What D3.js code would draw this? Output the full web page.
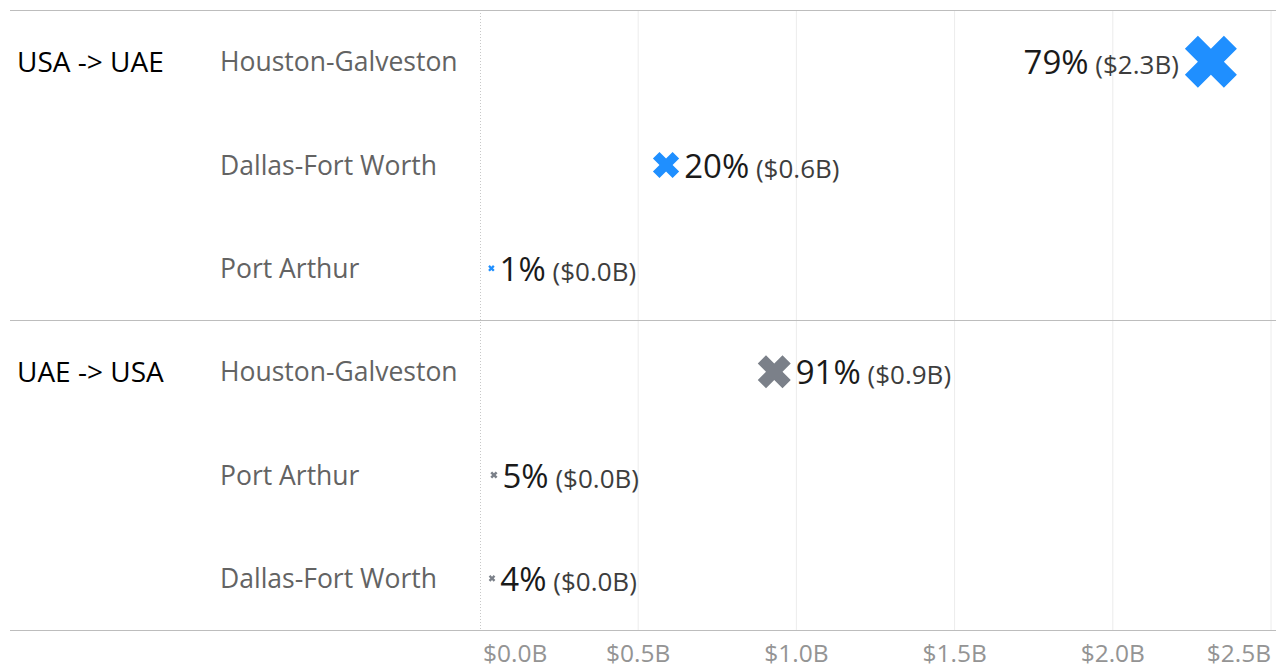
<!DOCTYPE html>
<html>
<head>
<meta charset="utf-8">
<script src="https://cdn.jsdelivr.net/npm/d3@7"></script>
<style>
  html,body{margin:0;padding:0;background:#fff;}
  svg{display:block;font-family:"Open Sans",sans-serif;}
</style>
</head>
<body>
<svg id="svg" width="1286" height="668"></svg>
<script>
// data
const flows = ["USA -> UAE", "UAE -> USA"];
const ports = [
  ["Houston-Galveston", "Dallas-Fort Worth", "Port Arthur"],
  ["Houston-Galveston", "Port Arthur", "Dallas-Fort Worth"]
];
const values = [[2.31, 0.588, 0.036], [0.93, 0.044, 0.038]];   // $B
const shares = [[79, 20, 1], [91, 5, 4]];                      // % of flow
const flowColors = ["#1f8fff", "#7b8089"];
const xTicks = [0, 0.5, 1, 1.5, 2, 2.5];

const plotLeft = 10, plotRight = 1276, plotTop = 10, paneH = 310;
const rowsPer = 3, rowH = paneH/rowsPer;

const svg = d3.select("#svg");

const x = d3.scaleLinear().domain([0, 2.5]).range([480, 1271]);
const size = d3.scaleSqrt().domain([0, 2.31]).range([0, 52]);

// flatten rows
const rows = [];
flows.forEach((f,fi)=>{
  ports[fi].forEach((p,pi)=>{
    rows.push({flow:f, fi, port:p, pi, value:values[fi][pi], share:shares[fi][pi],
      y: plotTop + fi*paneH + rowH*(pi+0.5)});
  });
});

const plotBottom = plotTop + paneH*flows.length;

// gridlines
svg.append("g").selectAll("line")
  .data(xTicks.filter(d=>d>0))
  .enter().append("line")
  .attr("x1", d=>x(d)).attr("x2", d=>x(d))
  .attr("y1", plotTop).attr("y2", plotBottom)
  .attr("stroke", "#ececec").attr("stroke-width", 1);

// zero line (dotted)
svg.append("line")
  .attr("x1", x(0)+0.5).attr("x2", x(0)+0.5)
  .attr("y1", plotTop).attr("y2", plotBottom)
  .attr("stroke", "#c8c8c8").attr("stroke-dasharray", "1,2");

// pane separators
svg.append("g").selectAll("line")
  .data(d3.range(flows.length+1))
  .enter().append("line")
  .attr("x1", plotLeft).attr("x2", plotRight)
  .attr("y1", d=>plotTop + d*paneH + 0.5).attr("y2", d=>plotTop + d*paneH + 0.5)
  .attr("stroke", "#bdbdbd").attr("stroke-width", 1);

// flow labels
svg.append("g").selectAll("text")
  .data(flows)
  .enter().append("text")
  .attr("x", 17)
  .attr("y", (d,i)=>plotTop + i*paneH + rowH*0.5)
  .attr("dy", "0.36em")
  .attr("font-size", 28)
  .attr("fill", "#000")
  .text(d=>d);

// port labels
svg.append("g").selectAll("text")
  .data(rows)
  .enter().append("text")
  .attr("x", 220)
  .attr("y", d=>d.y)
  .attr("dy", "0.36em")
  .attr("font-size", 26.5)
  .attr("fill", "#636363")
  .text(d=>d.port);

// X marker path, s = bounding box width
function xPath(s){
  const h = s/Math.SQRT2;            // L + t
  const t = h*0.25, L = h - t;
  const pts = [[t,L],[t,t],[L,t],[L,-t],[t,-t],[t,-L],[-t,-L],[-t,-t],[-L,-t],[-L,t],[-t,t],[-t,L]];
  const c = Math.SQRT1_2;
  return "M" + pts.map(([a,b])=>[(a-b)*c, (a+b)*c].map(v=>v.toFixed(2)).join(",")).join("L") + "Z";
}

const marks = svg.append("g").selectAll("g")
  .data(rows)
  .enter().append("g")
  .attr("transform", d=>`translate(${x(d.value)},${d.y})`);

marks.append("path")
  .attr("d", d=>xPath(size(d.value)))
  .attr("fill", d=>flowColors[d.fi]);

// labels
const labels = marks.append("text")
  .attr("font-size", 33)
  .attr("dy", "0.38em")
  .attr("fill", "#1a1a1a");
labels.append("tspan")
  .text(d=>d.share + "%");
labels.append("tspan")
  .attr("font-size", 26)
  .attr("fill", "#3d3d3d")
  .text(d=>" ($" + d.value.toFixed(1) + "B)");

labels.each(function(d){
  const t = d3.select(this);
  const w = this.getComputedTextLength();
  const half = size(d.value)/2;
  if(x(d.value) + half + 5 + w > plotRight){
    t.attr("text-anchor", "end").attr("x", -half - 6);
  } else {
    t.attr("text-anchor", "start").attr("x", half + 5);
  }
});

// axis tick labels
svg.append("g").selectAll("text")
  .data(xTicks)
  .enter().append("text")
  .attr("x", (d,i)=> i===0 ? x(d)+3 : x(d))
  .attr("y", 653)
  .attr("dy", "0.36em")
  .attr("text-anchor", (d,i)=> i===0 ? "start" : (i===xTicks.length-1 ? "end" : "middle"))
  .attr("font-size", 24.5)
  .attr("fill", "#949494")
  .text(d=>"$" + d.toFixed(1) + "B");
</script>
</body>
</html>
